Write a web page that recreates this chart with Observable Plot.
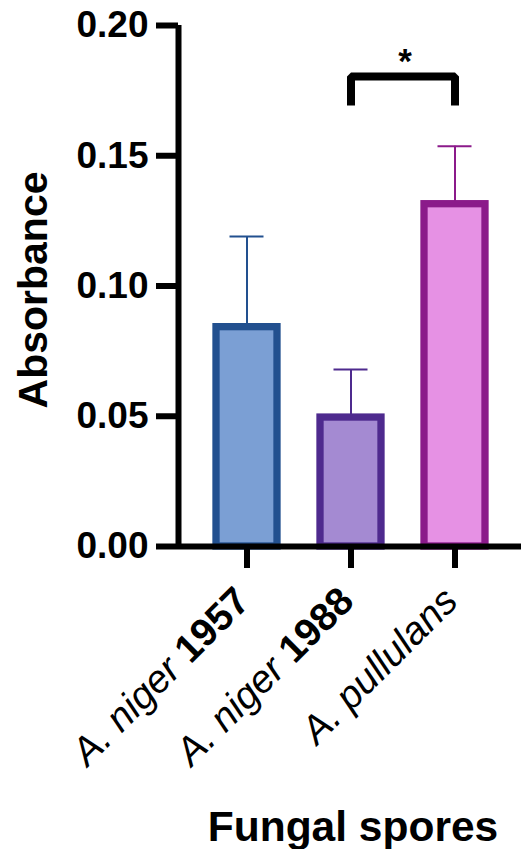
<!DOCTYPE html>
<html>
<head>
<meta charset="utf-8">
<script src="https://cdn.jsdelivr.net/npm/d3@7"></script>
<script src="https://cdn.jsdelivr.net/npm/@observablehq/plot@0.6"></script>
<style>
  html, body { margin: 0; padding: 0; background: #fff; }
  #chart svg { display: block; }
</style>
</head>
<body>
<div id="chart"></div>
<script>
// ---- data ----
const categories = ["A. niger 1957", "A. niger 1988", "A. pullulans"];
const species = ["A. niger ", "A. niger ", "A. pullulans"];
const strains = ["1957", "1988", ""];
const means = [0.0842, 0.0495, 0.1314];
const errors = [0.0348, 0.0184, 0.0222];
const fills = ["#7B9FD4", "#A48AD2", "#E691E4"];
const strokes = ["#22508F", "#4E2A8E", "#8B1A8A"];
const yTicks = [0, 0.05, 0.10, 0.15, 0.20];
const bracketX = ["A. niger 1988", "A. niger 1988", "A. pullulans", "A. pullulans"];
const bracketY = [0.1693, 0.1804, 0.1804, 0.1693];
const starLabel = "*";
const starY = 0.1819;
const yLabel = "Absorbance";
const xLabel = "Fungal spores";

const rows = categories.map((c, i) => ({
  cat: c, mean: means[i], top: means[i] + errors[i], fill: fills[i], stroke: strokes[i]
}));
const bracket = bracketX.map((x, i) => ({x, y: bracketY[i]}));

const font = "Arial, 'Liberation Sans', Helvetica, sans-serif";
const W = 521, ML = 178, MR = 0;

const chart = Plot.plot({
  width: W,
  height: 849,
  marginLeft: ML,
  marginRight: MR,
  marginTop: 25,
  marginBottom: 303,
  style: {fontFamily: font, background: "#fff", color: "#000"},
  x: {domain: categories, range: [195, 507], paddingInner: 0.41, paddingOuter: 0.205, axis: null},
  y: {domain: [0, 0.2], axis: null},
  marks: [
    // error bars (behind bars)
    Plot.ruleX(rows, {x: "cat", y1: "mean", y2: "top", stroke: "stroke", strokeWidth: 2}),
    Plot.tickY(rows, {x: "cat", y: "top", stroke: "stroke", strokeWidth: 2, insetLeft: 13.5, insetRight: 13.5}),
    // bars
    Plot.barY(rows, {x: "cat", y: "mean", fill: "fill", stroke: "stroke", strokeWidth: 7.3}),
    // axes
    Plot.axisY({ticks: yTicks, tickFormat: d3.format(".2f"), tickSize: 22, tickPadding: 8,
      strokeWidth: 6, fontSize: 37, fontWeight: "bold", label: null}),
    // x ticks only
    Plot.axisX({tickSize: 22, strokeWidth: 6, fill: "none", label: null}),
    // x tick labels only
    Plot.axisX({tickSize: 22, stroke: "none", tickRotate: -45, fontSize: 39, tickPadding: 26, dx: -4, label: null}),
    Plot.ruleY([0], {strokeWidth: 6}),
    // y axis line at the left edge of the frame (ruleX without x sits at the frame centre)
    Plot.ruleX([0], {x: null, y1: yTicks[0], y2: yTicks[yTicks.length - 1], dx: ML - (ML + W - MR) / 2, strokeWidth: 6}),
    // significance bracket
    Plot.line(bracket, {x: "x", y: "y", stroke: "#000", strokeWidth: 8, strokeLinejoin: "miter", strokeLinecap: "butt"}),
    Plot.text([starLabel], {x: () => categories[2], y: () => starY, dx: -50, lineAnchor: "bottom",
      fontSize: 35, fontWeight: "bold"}),
    // axis titles
    Plot.text([yLabel], {frameAnchor: "left", textAnchor: "middle", rotate: -90, lineAnchor: "bottom", dx: -132, dy: 4,
      fontSize: 41, fontWeight: "bold"}),
    Plot.text([xLabel], {frameAnchor: "bottom", textAnchor: "middle", lineAnchor: "bottom", dy: 294, dx: 3,
      fontSize: 42.5, fontWeight: "bold"})
  ]
});

// style x tick labels: italic species + bold strain
d3.select(chart).selectAll('g[aria-label="x-axis tick label"] text').each(function(d, i) {
  const t = d3.select(this);
  const idx = categories.indexOf(t.text());
  if (idx < 0) return;
  t.text(null);
  t.append("tspan").attr("font-style", "italic").text(species[idx]);
  if (strains[idx]) t.append("tspan").attr("font-weight", "bold").text(strains[idx]);
});

document.getElementById("chart").appendChild(chart);
</script>
</body>
</html>
